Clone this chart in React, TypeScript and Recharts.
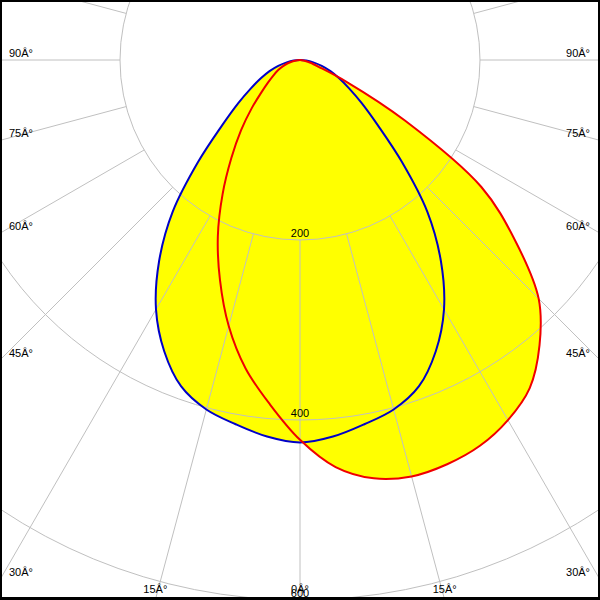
import React from 'react';
import { RadarChart, Radar, PolarGrid, PolarAngleAxis, PolarRadiusAxis } from 'recharts';

// Gamma angles (0° = straight down, positive to the right)
const gammaAngles = [
  -90, -85, -80, -75, -70, -65, -60, -55, -50, -45, -40, -35, -30, -25, -20, -15, -10, -5,
  0, 5, 10, 15, 20, 25, 30, 35, 40, 45, 50, 55, 60, 65, 70, 75, 80, 85, 90,
];
// C0-C180 plane (blue)
const planeBlue = [
  0, 7, 15, 25, 36, 48, 63, 84, 113, 160, 220, 273, 320, 357, 386, 402, 411, 420,
  425, 420, 411, 402, 386, 357, 320, 273, 220, 160, 113, 84, 63, 48, 36, 25, 15, 7, 0,
];
// C90-C270 plane (red)
const planeRed = [
  0, 3, 8, 14, 20, 27, 34, 43, 56, 76, 102, 133, 172, 216, 260, 306, 348, 384,
  422, 454, 472, 479, 478, 473, 462, 445, 414, 375, 312, 246, 135, 56, 22, 12, 6, 2, 0,
];
const radiusTicks = [200, 400, 600, 800];
const angleTicks = [
  -180, -165, -150, -135, -120, -105, -90, -75, -60, -45, -30, -15,
  0, 15, 30, 45, 60, 75, 90, 105, 120, 135, 150, 165, 180,
];

const data = gammaAngles.map((a, i) => ({ angle: a, blue: planeBlue[i], red: planeRed[i] }));

const W = 600;
const H = 600;
const CX = 300;
const CY = 60;
const OUTER = 720;
const RMAX = 800;
const RAD = Math.PI / 180;
const FONT = '"Liberation Sans", Arial, sans-serif';
const GRID = '#c0c0c0';

type P = { x: number; y: number };

// centripetal Catmull-Rom, closed
function smoothClosedPath(raw: P[]) {
  const pts: P[] = [];
  raw.forEach((p) => {
    const last = pts[pts.length - 1];
    if (!last || Math.hypot(p.x - last.x, p.y - last.y) > 0.01) pts.push({ x: p.x, y: p.y });
  });
  if (pts.length > 1) {
    const f = pts[0];
    const l = pts[pts.length - 1];
    if (Math.hypot(f.x - l.x, f.y - l.y) <= 0.01) pts.pop();
  }
  const n = pts.length;
  if (!n) return '';
  const alpha = 0.5;
  let d = `M${pts[0].x},${pts[0].y}`;
  for (let i = 0; i < n; i++) {
    const p0 = pts[(i - 1 + n) % n];
    const p1 = pts[i];
    const p2 = pts[(i + 1) % n];
    const p3 = pts[(i + 2) % n];
    const l01 = Math.hypot(p1.x - p0.x, p1.y - p0.y);
    const l12 = Math.hypot(p2.x - p1.x, p2.y - p1.y);
    const l23 = Math.hypot(p3.x - p2.x, p3.y - p2.y);
    const l01a = Math.pow(l01, alpha);
    const l12a = Math.pow(l12, alpha);
    const l23a = Math.pow(l23, alpha);
    let c1x = p1.x;
    let c1y = p1.y;
    let c2x = p2.x;
    let c2y = p2.y;
    if (l01a > 1e-6) {
      const a = 2 * l01 + 3 * l01a * l12a + l12;
      const nn = 3 * l01a * (l01a + l12a);
      c1x = (p1.x * a - p0.x * l12 + p2.x * l01) / nn;
      c1y = (p1.y * a - p0.y * l12 + p2.y * l01) / nn;
    }
    if (l23a > 1e-6) {
      const b = 2 * l23 + 3 * l23a * l12a + l12;
      const m = 3 * l23a * (l23a + l12a);
      c2x = (p2.x * b + p1.x * l23 - p3.x * l12) / m;
      c2y = (p2.y * b + p1.y * l23 - p3.y * l12) / m;
    }
    d += ` C${c1x},${c1y} ${c2x},${c2y} ${p2.x},${p2.y}`;
  }
  return d + 'Z';
}

const makeShape = (fill: string, stroke: string, strokeWidth: number) => (props: any) => (
  <path
    d={smoothClosedPath(props.points || [])}
    fill={fill}
    stroke={stroke}
    strokeWidth={strokeWidth}
    strokeLinejoin="round"
  />
);

const AngleTick = (props: any) => {
  const cx = props.cx ?? CX;
  const cy = props.cy ?? CY;
  const radius = props.radius ?? OUTER;
  const coord = props.payload?.coordinate ?? 0;
  const value = props.payload?.value ?? 0;
  const ux = Math.cos(-coord * RAD);
  const uy = Math.sin(-coord * RAD);
  const r0 = (radius * radiusTicks[0]) / RMAX;
  const line = (
    <line
      x1={cx + r0 * ux}
      y1={cy + r0 * uy}
      x2={cx + radius * ux}
      y2={cy + radius * uy}
      stroke={GRID}
      strokeWidth={1}
    />
  );
  if (Math.abs(value) > 90) return <g>{line}</g>;
  const cands: { t: number; side: string }[] = [];
  if (ux > 1e-9) cands.push({ t: (W - cx) / ux, side: 'right' });
  if (ux < -1e-9) cands.push({ t: (0 - cx) / ux, side: 'left' });
  if (uy > 1e-9) cands.push({ t: (H - cy) / uy, side: 'bottom' });
  cands.sort((a, b) => a.t - b.t);
  const hit = cands[0];
  const ex = cx + hit.t * ux;
  const ey = cy + hit.t * uy;
  let tx = ex;
  let ty = ey - 3.5;
  let anchor: 'start' | 'middle' | 'end' = 'middle';
  if (hit.side === 'left') {
    tx = 9;
    anchor = 'start';
  } else if (hit.side === 'right') {
    tx = 590;
    anchor = 'end';
  } else {
    ty = 593;
  }
  return (
    <g>
      {line}
      <text x={tx} y={ty} textAnchor={anchor} fontSize={11} fontFamily={FONT} fill="#000">
        {`${Math.abs(value)}Â°`}
      </text>
    </g>
  );
};

const RadiusTick = (props: any) => {
  const v = props.payload?.value;
  if (!radiusTicks.includes(v)) return <g />;
  return (
    <text x={props.x} y={props.y - 3} textAnchor="middle" fontSize={11} fontFamily={FONT} fill="#000">
      {v}
    </text>
  );
};

export default function App() {
  return (
    <div
      style={{
        position: 'absolute',
        left: 0,
        top: 0,
        width: W,
        height: H,
        overflow: 'hidden',
        background: '#fff',
        pointerEvents: 'none',
      }}
    >
      <RadarChart
        width={W}
        height={H}
        data={data}
        cx={CX}
        cy={CY}
        innerRadius={0}
        outerRadius={OUTER}
        startAngle={-270}
        endAngle={90}
        margin={{ top: 0, right: 0, bottom: 0, left: 0 }}
      >
        <Radar
          dataKey="blue"
          isAnimationActive={false}
          shape={makeShape('#ffff00', 'none', 0)}
          dot={false}
          activeDot={false}
          legendType="none"
          zIndex={100}
        />
        <Radar
          dataKey="red"
          isAnimationActive={false}
          shape={makeShape('#ffff00', 'none', 0)}
          dot={false}
          activeDot={false}
          legendType="none"
          zIndex={100}
        />
        <PolarGrid gridType="circle" radialLines={false} stroke={GRID} zIndex={150} />
        <PolarAngleAxis
          dataKey="angle"
          type="number"
          domain={[-180, 180]}
          ticks={angleTicks}
          tick={AngleTick}
          axisLine={false}
          tickLine={false}
          zIndex={160}
        />
        <Radar
          dataKey="blue"
          isAnimationActive={false}
          shape={makeShape('none', '#0000c8', 2)}
          dot={false}
          activeDot={false}
          legendType="none"
          zIndex={400}
        />
        <Radar
          dataKey="red"
          isAnimationActive={false}
          shape={makeShape('none', '#f00000', 2)}
          dot={false}
          activeDot={false}
          legendType="none"
          zIndex={401}
        />
        <PolarRadiusAxis
          angle={-90}
          type="number"
          domain={[0, RMAX]}
          ticks={radiusTicks}
          tick={RadiusTick}
          axisLine={false}
          tickLine={false}
          zIndex={500}
        />
      </RadarChart>
      <div
        style={{
          position: 'absolute',
          left: 0,
          top: 0,
          width: W,
          height: H,
          boxSizing: 'border-box',
          borderStyle: 'solid',
          borderColor: '#000',
          borderWidth: '2px 2px 3px 2px',
          pointerEvents: 'none',
        }}
      />
    </div>
  );
}
